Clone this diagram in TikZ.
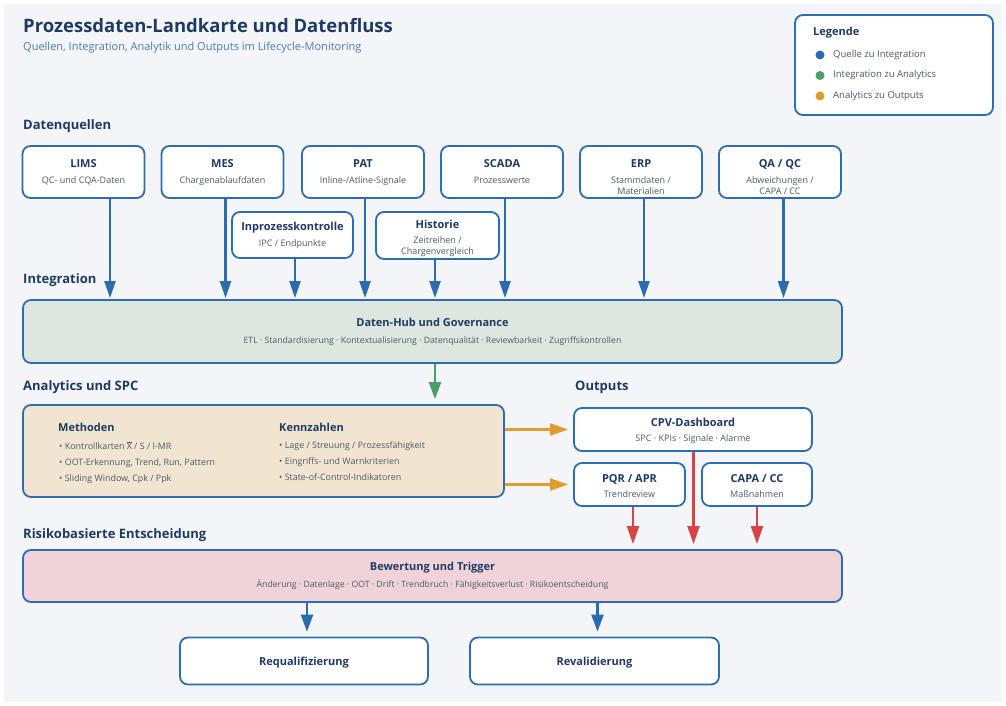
\documentclass[tikz,border=0pt]{standalone}
\usepackage{fontspec}
\setmainfont{Open Sans}
\usetikzlibrary{arrows.meta,positioning}

\definecolor{navy}{HTML}{1F3B63}
\definecolor{boxblue}{HTML}{2E6DB0}
\definecolor{subtxt}{HTML}{4F5965}
\definecolor{subblue}{HTML}{4A7BB4}
\definecolor{bggray}{HTML}{F3F5F8}
\definecolor{hubgreen}{HTML}{DCE8DF}
\definecolor{anabeige}{HTML}{F1E5D2}
\definecolor{riskpink}{HTML}{F0D3D8}
\definecolor{flowblue}{HTML}{2B6CB0}
\definecolor{flowgreen}{HTML}{4A9E66}
\definecolor{floworange}{HTML}{E09C2E}
\definecolor{flowred}{HTML}{D64545}

\newcommand{\cardtitle}[1]{{\fontsize{11}{11}\selectfont\bfseries\color{navy}#1}}
\newcommand{\xbar}{$\overline{\mbox{X}}$}

\tikzset{
  card/.style={draw=boxblue, line width=1.8pt, rounded corners=8pt, fill=white,
    align=center, inner sep=0pt, text=subtxt, font=\fontsize{9}{11}\selectfont},
  twoline/.style={text height=22pt, text depth=0pt},
  threeline/.style={text height=44pt, text depth=0pt},
  band/.style={card, font=\fontsize{8.7}{11}\selectfont},
  sectlabel/.style={anchor=base west, inner sep=0pt, text=navy, font=\fontsize{13}{15}\selectfont\bfseries},
  coltitle/.style={anchor=base west, inner sep=0pt, text=navy, font=\fontsize{11}{12}\selectfont\bfseries},
  bullets/.style={anchor=north west, align=left, inner sep=0pt, text=subtxt, font=\fontsize{8.9}{16}\selectfont},
  legdot/.style={circle, inner sep=0pt, minimum size=9pt},
  legtext/.style={anchor=west, inner sep=0pt, text=subtxt, font=\fontsize{9.5}{11}\selectfont},
  srcflow/.style={draw=flowblue, line width=2.2pt, -{Triangle[length=17pt,width=11pt]}, shorten >=1pt},
  anaflow/.style={draw=flowgreen, line width=2.2pt, -{Triangle[length=17pt,width=12pt]}, shorten >=5pt},
  outflow/.style={draw=floworange, line width=2.2pt, -{Triangle[length=18pt,width=12pt]}, shorten >=5pt},
  trigflow/.style={draw=flowred, line width=2.2pt, -{Triangle[length=18pt,width=12pt]}, shorten >=5pt},
  decflow/.style={draw=flowblue, line width=2.2pt, -{Triangle[length=17pt,width=12pt]}, shorten >=5pt}
}

\begin{document}
\begin{tikzpicture}[x=1pt,y=-1pt]
\useasboundingbox (0,0) rectangle (1006,706);
\fill[bggray] (4,4) rectangle (1002,702);

% Kopf
\node[anchor=base west, inner sep=0pt, text=navy, font=\fontsize{18.5}{20}\selectfont\bfseries] (title) at (23,33) {Prozessdaten-Landkarte und Datenfluss};
\node[anchor=base west, inner sep=0pt, text=subblue, font=\fontsize{11}{12}\selectfont] (subtitle) at (23,51) {Quellen, Integration, Analytik und Outputs im Lifecycle-Monitoring};

% Legende
\node[card, minimum width=198pt, minimum height=100pt] (legend) at (894,65) {};
\node[anchor=base west, inner sep=0pt, text=navy, font=\fontsize{11}{12}\selectfont\bfseries] (legtitle) at (813,36) {Legende};
\node[legdot, fill=flowblue] (dotsrc) at (820,55) {};
\node[legdot, fill=flowgreen] (dotint) at (820,75.5) {};
\node[legdot, fill=floworange] (dotana) at (820,96) {};
\node[legtext] (legsrc) at (833,55) {Quelle zu Integration};
\node[legtext] (legint) at (833,75.5) {Integration zu Analytics};
\node[legtext] (legana) at (833,96) {Analytics zu Outputs};

% Abschnitte
\node[sectlabel] (secsrc) at (23,129) {Datenquellen};
\node[sectlabel] (secint) at (23,283) {Integration};
\node[sectlabel] (secana) at (23,390) {Analytics und SPC};
\node[sectlabel] (secout) at (575,390) {Outputs};
\node[sectlabel] (secrisk) at (23,538) {Risikobasierte Entscheidung};

% Datenquellen
\node[card, twoline, minimum width=122pt, minimum height=52pt] (lims) at (83.5,172) {\cardtitle{LIMS}\\[5pt]QC- und CQA-Daten};
\node[card, twoline, minimum width=122pt, minimum height=52pt] (mes) at (222.5,172) {\cardtitle{MES}\\[5pt]Chargenablaufdaten};
\node[card, twoline, minimum width=122pt, minimum height=52pt] (pat) at (363,172) {\cardtitle{PAT}\\[5pt]Inline-/Atline-Signale};
\node[card, twoline, minimum width=122pt, minimum height=52pt] (scada) at (502,172) {\cardtitle{SCADA}\\[5pt]Prozesswerte};
\node[card, threeline, minimum width=122pt, minimum height=52pt] (erp) at (641,172) {\cardtitle{ERP}\\[5pt]Stammdaten /\\Materialien};
\node[card, threeline, minimum width=122pt, minimum height=52pt] (qaqc) at (780,172) {\cardtitle{QA / QC}\\[5pt]Abweichungen /\\CAPA / CC};
\node[card, twoline, minimum width=121pt, minimum height=46pt] (ipc) at (292.5,235) {\cardtitle{Inprozesskontrolle}\\[5pt]IPC / Endpunkte};
\node[card, threeline, text height=37pt, minimum width=123pt, minimum height=47pt] (hist) at (437.5,235.5) {\cardtitle{Historie}\\[4pt]Zeitreihen /\\Chargenvergleich};

% Integration
\node[band, fill=hubgreen, minimum width=819pt, minimum height=63pt] (hub) at (432.5,331.5) {\cardtitle{Daten-Hub und Governance}\\[6pt]ETL · Standardisierung · Kontextualisierung · Datenqualität · Reviewbarkeit · Zugriffskontrollen};

% Analytics
\node[card, fill=anabeige, minimum width=481pt, minimum height=92pt] (ana) at (263.5,451) {};
\node[coltitle] (methods) at (58,431) {Methoden};
\node[bullets] (methodlist) at (59,441) {\textbullet\ Kontrollkarten \xbar\ / S / I-MR\\\textbullet\ OOT-Erkennung, Trend, Run, Pattern\\\textbullet\ Sliding Window, Cpk / Ppk};
\node[coltitle] (kpis) at (279,431) {Kennzahlen};
\node[bullets] (kpilist) at (279,441) {\textbullet\ Lage / Streuung / Prozessfähigkeit\\\textbullet\ Eingriffs- und Warnkriterien\\\textbullet\ State-of-Control-Indikatoren};

% Outputs
\node[card, twoline, text height=24pt, minimum width=238pt, minimum height=43pt] (cpv) at (693,429.5) {\cardtitle{CPV-Dashboard}\\[4pt]SPC · KPIs · Signale · Alarme};
\node[card, twoline, text height=25pt, minimum width=111pt, minimum height=43pt] (pqr) at (629.5,484.5) {\cardtitle{PQR / APR}\\[4pt]Trendreview};
\node[card, twoline, text height=25pt, minimum width=110pt, minimum height=43pt] (capa) at (757,484.5) {\cardtitle{CAPA / CC}\\[4pt]Maßnahmen};

% Entscheidung
\node[band, fill=riskpink, minimum width=819pt, minimum height=52pt] (risk) at (432.5,576) {\cardtitle{Bewertung und Trigger}\\[6pt]Änderung · Datenlage · OOT · Drift · Trendbruch · Fähigkeitsverlust · Risikoentscheidung};
\node[card, text depth=0pt, minimum width=248pt, minimum height=47pt] (requal) at (304,661) {\cardtitle{Requalifizierung}};
\node[card, text depth=0pt, minimum width=249pt, minimum height=47pt] (reval) at (594.5,661) {\cardtitle{Revalidierung}};

% Quelle zu Integration
\draw[srcflow] ([xshift=26.5pt]lims.south) -- ([xshift=26.5pt]lims.south |- hub.north);
\draw[srcflow] ([xshift=3pt]mes.south) -- ([xshift=3pt]mes.south |- hub.north);
\draw[srcflow] ([xshift=2.5pt]ipc.south) -- ([xshift=2.5pt]ipc.south |- hub.north);
\draw[srcflow] ([xshift=2pt]pat.south) -- ([xshift=2pt]pat.south |- hub.north);
\draw[srcflow] ([xshift=-2.5pt]hist.south) -- ([xshift=-2.5pt]hist.south |- hub.north);
\draw[srcflow] ([xshift=3pt]scada.south) -- ([xshift=3pt]scada.south |- hub.north);
\draw[srcflow] ([xshift=3pt]erp.south) -- ([xshift=3pt]erp.south |- hub.north);
\draw[srcflow] ([xshift=3.5pt]qaqc.south) -- ([xshift=3.5pt]qaqc.south |- hub.north);

% Integration zu Analytics
\draw[anaflow] ([xshift=2.5pt]hub.south) -- ([xshift=2.5pt]hub.south |- ana.north);

% Analytics zu Outputs
\draw[outflow] (ana.east |- cpv.west) -- (cpv.west);
\draw[outflow] (ana.east |- pqr.west) -- (pqr.west);

% Outputs zu Entscheidung
\draw[trigflow] ([xshift=3.5pt]pqr.south) -- ([xshift=3.5pt]pqr.south |- risk.north);
\draw[trigflow] ([xshift=0.5pt]cpv.south) -- ([xshift=0.5pt]cpv.south |- risk.north);
\draw[trigflow] (capa.south) -- (capa.south |- risk.north);

% Entscheidung zu Massnahmen
\draw[decflow] ([xshift=3pt]requal.north |- risk.south) -- ([xshift=3pt]requal.north);
\draw[decflow] ([xshift=3pt]reval.north |- risk.south) -- ([xshift=3pt]reval.north);
\end{tikzpicture}
\end{document}
